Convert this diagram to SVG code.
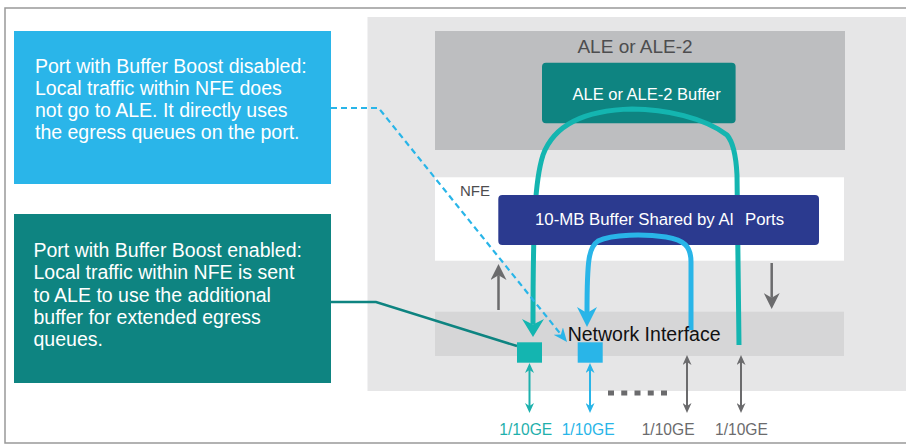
<svg xmlns="http://www.w3.org/2000/svg" width="906" height="445" viewBox="0 0 906 445">
<style>
text{font-family:"Liberation Sans",Arial,sans-serif}
.note{font-size:19.5px;fill:#ffffff}
.lbl{font-size:15.6px}
.thick{fill:none;stroke-width:5;stroke-linecap:butt}
</style>
<defs>
<marker id="mTeal" markerUnits="userSpaceOnUse" markerWidth="18" markerHeight="22" viewBox="0 0 18 22" refX="5.4" refY="11" orient="auto"><path d="M0,0 L18,11 L0,22 L5.4,11 z" fill="#14b5b0"/></marker>
<marker id="mBlue" markerUnits="userSpaceOnUse" markerWidth="20" markerHeight="20" viewBox="0 0 20 20" refX="6" refY="10" orient="auto"><path d="M0,0 L20,10 L0,20 L6,10 z" fill="#29b5e8"/></marker>
<marker id="mDash" markerUnits="userSpaceOnUse" markerWidth="14" markerHeight="12" viewBox="0 0 14 12" refX="4.2" refY="6" orient="auto"><path d="M0,0 L14,6 L0,12 L4.2,6 z" fill="#29b5e8"/></marker>
<marker id="mGray" markerUnits="userSpaceOnUse" markerWidth="16" markerHeight="16" viewBox="0 0 16 16" refX="4.8" refY="8" orient="auto"><path d="M0,0 L16,8 L0,16 L4.8,8 z" fill="#6b6b6d"/></marker>
<marker id="sTeal" markerUnits="userSpaceOnUse" markerWidth="10" markerHeight="9" viewBox="0 0 10 9" refX="3" refY="4.5" orient="auto-start-reverse"><path d="M0,0 L10,4.5 L0,9 L3,4.5 z" fill="#1db1ad"/></marker>
<marker id="sBlue" markerUnits="userSpaceOnUse" markerWidth="10" markerHeight="9" viewBox="0 0 10 9" refX="3" refY="4.5" orient="auto-start-reverse"><path d="M0,0 L10,4.5 L0,9 L3,4.5 z" fill="#29b5e8"/></marker>
<marker id="sGray" markerUnits="userSpaceOnUse" markerWidth="10" markerHeight="9" viewBox="0 0 10 9" refX="3" refY="4.5" orient="auto-start-reverse"><path d="M0,0 L10,4.5 L0,9 L3,4.5 z" fill="#6b6b6d"/></marker>
</defs>

<path d="M906,8 L5,8 L5,443 L906,443" fill="none" stroke="#999999" stroke-width="1.5"/>

<g id="chassis"><rect x="367.5" y="17" width="538.5" height="374" fill="#e6e6e7"/></g>
<g id="ale"><rect x="435" y="31" width="410" height="119" fill="#bdbec0"/>
<text x="635" y="52.7" text-anchor="middle" style="font-size:19px;fill:#4d4d4f">ALE or ALE-2</text></g>
<g id="ale-buffer"><rect x="542" y="62.7" width="193.6" height="60.6" rx="4" fill="#0e8481"/>
<text x="572.5" y="100" style="font-size:16.5px;fill:#ffffff">ALE or ALE-2 Buffer</text></g>
<g id="nfe"><rect x="435" y="177.3" width="409" height="83.4" fill="#ffffff"/>
<text x="460" y="196" style="font-size:15px;fill:#4d4d4f">NFE</text></g>
<g id="network-interface-band"><rect x="435" y="311.7" width="409" height="44.3" fill="#d6d6d7"/></g>

<g id="note-disabled"><rect x="14" y="31" width="317" height="153" fill="#2ab5e9"/>
<text class="note" x="35" y="73.3">Port with Buffer Boost disabled:</text>
<text class="note" x="35" y="95.3">Local traffic within NFE does</text>
<text class="note" x="35" y="117.2">not go to ALE. It directly uses</text>
<text class="note" x="35" y="139.2">the egress queues on the port.</text></g>
<g id="note-enabled"><rect x="14" y="214" width="317" height="169" fill="#0e8481"/>
<text class="note" x="33.5" y="257.3">Port with Buffer Boost enabled:</text>
<text class="note" x="33.5" y="279.3">Local traffic within NFE is sent</text>
<text class="note" x="33.5" y="301.5">to ALE to use the additional</text>
<text class="note" x="33.5" y="323.5">buffer for extended egress</text>
<text class="note" x="33.5" y="345.5">queues.</text></g>

<g id="connectors">
<path class="thick" d="M739,345 L737,175 C736,155 733,142 727,135 C705,118 665,109 632,109 C590,110 555,122 543,155 C535,180 533,220 533,324.4" stroke="#14b5b0" marker-end="url(#mTeal)"/>
</g>

<g id="shared-buffer"><rect x="498.3" y="195" width="320.7" height="50" rx="4" fill="#2b3a8f"/>
<text x="535" y="225" style="font-size:16.8px;fill:#ffffff">10-MB Buffer Shared by Al</text>
<text x="745" y="225" style="font-size:16.8px;fill:#ffffff">Ports</text></g>

<g id="connectors-front">
<path class="thick" d="M691,330 L691,262 C691,246 684,240 666,237 C645,234 612,234 598,241 C589,247 587,258 587,313" stroke="#29b5e8" marker-end="url(#mBlue)"/>
<path d="M331,108 L378.6,108 L560.9,334.4" fill="none" stroke="#29b5e8" stroke-width="2.2" stroke-dasharray="6,4" marker-end="url(#mDash)"/>
<path d="M331,302 L376,302 L517,346" fill="none" stroke="#0e8481" stroke-width="2.5"/>
<path d="M498.5,310 L498.5,275.2" stroke="#6b6b6d" stroke-width="2.5" marker-end="url(#mGray)"/>
<path d="M771.7,263 L771.7,297.8" stroke="#6b6b6d" stroke-width="2.5" marker-end="url(#mGray)"/>
<path d="M529.5,370 L529.5,406" stroke="#1db1ad" stroke-width="2" marker-start="url(#sTeal)" marker-end="url(#sTeal)"/>
<path d="M590,370 L590,406" stroke="#29b5e8" stroke-width="2" marker-start="url(#sBlue)" marker-end="url(#sBlue)"/>
<path d="M687,362 L687,406" stroke="#6b6b6d" stroke-width="2" marker-start="url(#sGray)" marker-end="url(#sGray)"/>
<path d="M741,362 L741,406" stroke="#6b6b6d" stroke-width="2" marker-start="url(#sGray)" marker-end="url(#sGray)"/>
<path d="M608,393 L667,393" stroke="#6b6b6d" stroke-width="5" stroke-dasharray="6,7.25"/>
</g>

<g id="network-interface"><text x="567.7" y="340.7" style="font-size:19.5px;fill:#111111">Network Interface</text></g>
<g id="port-teal"><rect x="517" y="342.3" width="25" height="20.4" fill="#14b5b0"/></g>
<g id="port-blue"><rect x="577.7" y="342.3" width="25" height="20.4" fill="#29b5e8"/></g>

<g id="port-labels">
<text class="lbl" x="499.3" y="435" style="fill:#1fb0ac">1/10GE</text>
<text class="lbl" x="561.7" y="435" style="fill:#29b5e8">1/10GE</text>
<text class="lbl" x="641.7" y="435" style="fill:#6b6b6d">1/10GE</text>
<text class="lbl" x="715" y="435" style="fill:#6b6b6d">1/10GE</text>
</g>
</svg>
